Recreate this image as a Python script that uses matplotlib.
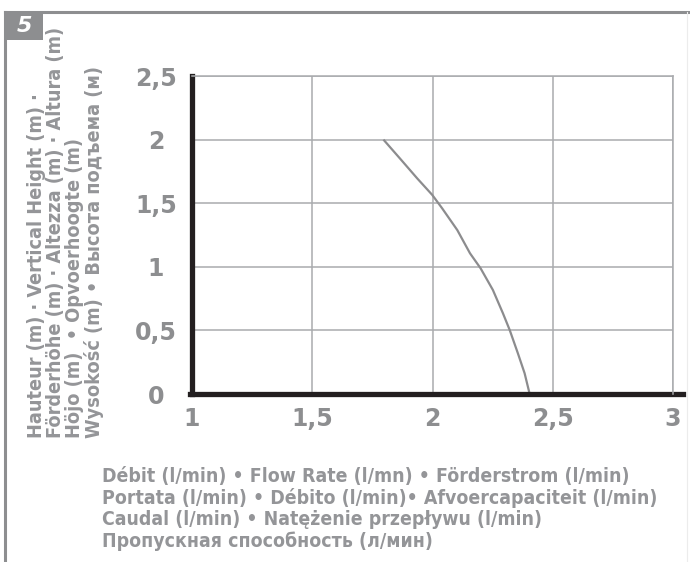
import matplotlib
matplotlib.use('Agg')
import matplotlib.pyplot as plt
import matplotlib.font_manager as fm
from matplotlib.patches import Rectangle
from matplotlib.lines import Line2D

# --- data ---
flow = [1.796, 1.870, 1.936, 1.999, 2.040, 2.103, 2.156, 2.200,
        2.251, 2.293, 2.321, 2.355, 2.383, 2.404]
height = [2.0, 1.84, 1.696, 1.565, 1.46, 1.289, 1.106, 0.988,
          0.818, 0.634, 0.503, 0.32, 0.163, 0.0]

x_ticks = [1, 1.5, 2, 2.5, 3]
y_ticks = [0, 0.5, 1, 1.5, 2, 2.5]

y_label_lines = [
    "Hauteur (m) · Vertical Height (m) ·",
    "Förderhöhe (m) · Altezza (m) · Altura (m)",
    "Höjo (m)  • Opvoerhoogte (m)",
    "Wysokość (m) • Высота подъема (м)",
]
x_label_lines = [
    "Débit (l/min) • Flow Rate (l/mn) • Förderstrom (l/min)",
    "Portata (l/min) • Débito (l/min)• Afvoercapaciteit (l/min)",
    "Caudal (l/min) • Natężenie przepływu (l/min)",
    "Пропускная способность (л/мин)",
]
badge = "5"

# --- style ---
GREY = '#8d8e90'
TEXT_GREY = '#949598'
GRID = '#a9abae'
DARK = '#231f20'


def label_font(size):
    # prefer a narrow face if one is around, the original uses a condensed sans
    for f in fm.fontManager.ttflist:
        low = f.fname.lower()
        if ('condensed' in low or 'narrow' in low) and 'bold' in low \
                and 'oblique' not in low and 'italic' not in low:
            return fm.FontProperties(fname=f.fname, size=size)
    return fm.FontProperties(family=['Roboto', 'DejaVu Sans'], weight='bold', size=size)


def comma(v):
    return f'{v:g}'.replace('.', ',')


W, H = 690, 562
fig = plt.figure(figsize=(W / 100, H / 100), dpi=100)

# axes box in pixels: left 192, right 673, top 76, bottom 394
# tick numbers are set in a heavy sans in the original
with plt.rc_context({'font.weight': 'bold'}):
    ax = fig.add_axes([192 / W, 1 - 394 / H, (673 - 192) / W, (394 - 76) / H])
    ax.plot(flow, height, color='#8c8c8e', lw=1.6, solid_capstyle='butt')

    ax.set_xlim(x_ticks[0], x_ticks[-1])
    ax.set_ylim(y_ticks[0], y_ticks[-1])
    ax.set_xticks(x_ticks, labels=[comma(v) for v in x_ticks], fontweight='bold')
    ax.set_yticks(y_ticks, labels=[comma(v) for v in y_ticks], fontweight='bold',
                  ha='center')
    ax.grid(True, color=GRID, lw=1.1)
    ax.set_axisbelow(True)
    ax.tick_params(length=0, labelsize=17, labelcolor=GREY)
    ax.tick_params(axis='x', pad=9)
    ax.tick_params(axis='y', pad=26)

for side in ['top', 'right']:
    ax.spines[side].set_color(GRID)
    ax.spines[side].set_linewidth(1.1)
ax.spines['left'].set_color(DARK)
ax.spines['left'].set_linewidth(3.8)
ax.spines['bottom'].set_visible(False)
ax.axhline(y_ticks[0], xmin=-0.005, xmax=1.02, clip_on=False, color=DARK, lw=3.8)

# axis titles
ylab = fig.text(27 / W, 1 - 438 / H, '\n'.join(y_label_lines), rotation=90,
                ha='left', va='bottom', fontproperties=label_font(14),
                color=TEXT_GREY, linespacing=1.0)
xlab = fig.text(102 / W, 1 - 467 / H, '\n'.join(x_label_lines),
                ha='left', va='top', fontproperties=label_font(14),
                color=TEXT_GREY, linespacing=1.08)

# size the title blocks to the span they take in the original
fig.canvas.draw()
r = fig.canvas.get_renderer()
ext = ylab.get_window_extent(r)
ylab.set_fontsize(14 * 413 / ext.height)
ext = xlab.get_window_extent(r)
xlab.set_fontsize(14 * 556 / ext.width)
fig.canvas.draw()
ext = xlab.get_window_extent(r)
xlab.set_linespacing(1.08 * 86 / ext.height)

# frame and badge
fig.add_artist(Line2D([5 / W, 1], [1 - 12 / H] * 2, transform=fig.transFigure,
                      color=GREY, lw=2.2))
fig.add_artist(Line2D([5 / W] * 2, [0, 1 - 12 / H], transform=fig.transFigure,
                      color=GREY, lw=2.2))
fig.add_artist(Line2D([687 / W] * 2, [0, 1 - 12 / H], transform=fig.transFigure,
                      color='#ececec', lw=0.8))
fig.add_artist(Rectangle((5 / W, 1 - 40 / H), 38 / W, 28 / H,
                         transform=fig.transFigure, color=GREY, lw=0))
fig.text(24 / W, 1 - 26 / H, badge, ha='center', va='center', color='white',
         fontsize=16, fontweight='bold', fontstyle='italic')

fig.savefig('out.png', dpi=100)
